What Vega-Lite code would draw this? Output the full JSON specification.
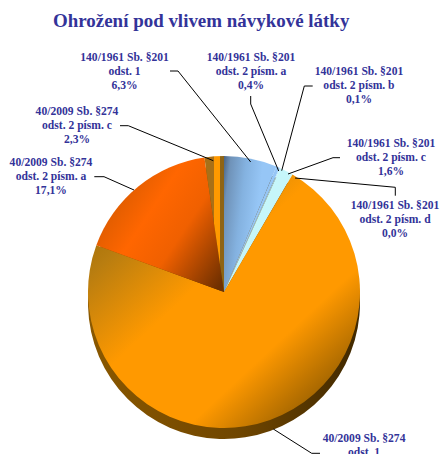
{
"$schema":"https://vega.github.io/schema/vega-lite/v6.json",
"width":440,"height":454,"padding":0,"autosize":{"type":"none"},
"background":"white",
"config":{"view":{"stroke":null},"arc":{"outerRadius":136},"text":{"radius":136,"font":"Liberation Serif","fontSize":11.6,"fontWeight":"bold","color":"#333399","lineHeight":14,"baseline":"middle","align":"center"}},
"title":{"text":"Ohrožení pod vlivem návykové látky","anchor":"start","frame":"group","dx":53,"offset":-31,"font":"Liberation Serif","fontSize":18.95,"fontWeight":"bold","color":"#333399"},
"datasets":{
"slices":[
{"order":1,"slice":"140 odst. 1","share":6.3,"label":["140/1961 Sb. §201","odst. 1","6,3%"]},
{"order":2,"slice":"140 a","share":0.4,"label":["140/1961 Sb. §201","odst. 2 písm. a","0,4%"]},
{"order":3,"slice":"140 b","share":0.1,"label":["140/1961 Sb. §201","odst. 2 písm. b","0,1%"]},
{"order":4,"slice":"140 c","share":1.6,"label":["140/1961 Sb. §201","odst. 2 písm. c","1,6%"]},
{"order":5,"slice":"140 d","share":0.0,"label":["140/1961 Sb. §201","odst. 2 písm. d","0,0%"]},
{"order":6,"slice":"40 odst. 1","share":72.2,"label":["40/2009 Sb. §274","odst. 1","72,2%"]},
{"order":7,"slice":"40 a","share":17.1,"label":["40/2009 Sb. §274","odst. 2 písm. a","17,1%"]},
{"order":8,"slice":"40 c","share":2.3,"label":["40/2009 Sb. §274","odst. 2 písm. c","2,3%"]}
],
"leaders":[
{"slice":"140 odst. 1","step":1,"lx":-54,"ly":221},{"slice":"140 odst. 1","step":2,"lx":-46,"ly":221},{"slice":"140 odst. 1","step":3,"lx":26.7,"ly":130},
{"slice":"140 a","step":1,"lx":26.7,"ly":196},{"slice":"140 a","step":2,"lx":26.7,"ly":188},{"slice":"140 a","step":3,"lx":54.7,"ly":121},
{"slice":"140 b","step":1,"lx":88.7,"ly":206},{"slice":"140 b","step":2,"lx":80.3,"ly":206},{"slice":"140 b","step":3,"lx":57.7,"ly":121.3},
{"slice":"140 c","step":1,"lx":116,"ly":134.3},{"slice":"140 c","step":2,"lx":109,"ly":134.3},{"slice":"140 c","step":3,"lx":64,"ly":118},
{"slice":"140 d","step":1,"lx":171.3,"ly":96.3},{"slice":"140 d","step":2,"lx":171.3,"ly":104.7},{"slice":"140 d","step":3,"lx":71,"ly":114},
{"slice":"40 c","step":1,"lx":-104,"ly":166.3},{"slice":"40 c","step":2,"lx":-95.7,"ly":166.3},{"slice":"40 c","step":3,"lx":-10.7,"ly":131.3},
{"slice":"40 a","step":1,"lx":-129.7,"ly":115.3},{"slice":"40 a","step":2,"lx":-120,"ly":115.3},{"slice":"40 a","step":3,"lx":-90,"ly":102},
{"slice":"40 odst. 1","step":1,"lx":96,"ly":-161.3},{"slice":"40 odst. 1","step":2,"lx":87.7,"ly":-161.3},{"slice":"40 odst. 1","step":3,"lx":49.3,"ly":-137}
]},
"layer":[
{"data":{"name":"slices"},
"transform":[
{"stack":"share","sort":[{"field":"order","order":"ascending"}],"groupby":[],"as":["s0","s1"]},
{"calculate":"(datum.s0+datum.s1)/2","as":"mid"}
],
"encoding":{
"x":{"datum":0,"type":"quantitative","scale":{"domain":[-224,216]},"axis":null},
"y":{"datum":0,"type":"quantitative","scale":{"domain":[-162,292]},"axis":null}
},
"layer":[
{"mark":{"type":"arc","yOffset":11,"color":{"gradient":"linear","x1":0,"y1":0.5,"x2":1,"y2":0.5,"stops":[{"offset":0,"color":"#8A5800"},{"offset":0.55,"color":"#704600"},{"offset":1,"color":"#402800"}]}},
"encoding":{"theta":{"field":"s0","type":"quantitative","scale":{"domain":[0,100]},"stack":null},"theta2":{"field":"s1"}}},
{"transform":[{"filter":"datum.order==1"}],"mark":{"type":"arc","color":{"gradient":"linear","x1":0,"y1":0,"x2":1,"y2":0.3,"stops":[{"offset":0,"color":"#4A6484"},{"offset":0.12,"color":"#6F92B8"},{"offset":0.4,"color":"#84B2E0"},{"offset":0.7,"color":"#96C6F6"},{"offset":1,"color":"#96C6F6"}]}},
"encoding":{"theta":{"field":"s0","type":"quantitative","scale":{"domain":[0,100]},"stack":null},"theta2":{"field":"s1"}}},
{"transform":[{"filter":"datum.order==2"}],"mark":{"type":"arc","color":"#96C6F6"},
"encoding":{"theta":{"field":"s0","type":"quantitative","scale":{"domain":[0,100]},"stack":null},"theta2":{"field":"s1"}}},
{"transform":[{"filter":"datum.order==3"}],"mark":{"type":"arc","color":"#B8E6F8"},
"encoding":{"theta":{"field":"s0","type":"quantitative","scale":{"domain":[0,100]},"stack":null},"theta2":{"field":"s1"}}},
{"transform":[{"filter":"datum.order==4"}],"mark":{"type":"arc","color":"#C6F6FA"},
"encoding":{"theta":{"field":"s0","type":"quantitative","scale":{"domain":[0,100]},"stack":null},"theta2":{"field":"s1"}}},
{"transform":[{"filter":"datum.order==6"}],"mark":{"type":"arc","color":{"gradient":"linear","x1":0,"y1":0,"x2":1,"y2":1,"stops":[{"offset":0,"color":"#8F6000"},{"offset":0.2,"color":"#B87D10"},{"offset":0.42,"color":"#FF9900"},{"offset":0.68,"color":"#FF9900"},{"offset":0.85,"color":"#A86800"},{"offset":1,"color":"#7A4C00"}]}},
"encoding":{"theta":{"field":"s0","type":"quantitative","scale":{"domain":[0,100]},"stack":null},"theta2":{"field":"s1"}}},
{"transform":[{"filter":"datum.order==7"}],"mark":{"type":"arc","color":{"gradient":"linear","x1":0,"y1":0.2,"x2":1,"y2":0.9,"stops":[{"offset":0,"color":"#C85500"},{"offset":0.38,"color":"#FF6600"},{"offset":0.62,"color":"#F06000"},{"offset":1,"color":"#703000"}]}},
"encoding":{"theta":{"field":"s0","type":"quantitative","scale":{"domain":[0,100]},"stack":null},"theta2":{"field":"s1"}}},
{"transform":[{"filter":"datum.order==8"}],"mark":{"type":"arc","color":{"gradient":"linear","x1":0,"y1":0.5,"x2":1,"y2":0.5,"stops":[{"offset":0,"color":"#A87018"},{"offset":0.5,"color":"#A87018"},{"offset":0.5,"color":"#FF9900"},{"offset":0.82,"color":"#FF9900"},{"offset":0.82,"color":"#8F6414"},{"offset":1,"color":"#8F6414"}]}},
"encoding":{"theta":{"field":"s0","type":"quantitative","scale":{"domain":[0,100]},"stack":null},"theta2":{"field":"s1"}}},
{"transform":[{"filter":"datum.order==1"}],"mark":{"type":"text","dx":-126.2,"dy":-100.7},"encoding":{"theta":{"field":"mid","type":"quantitative","scale":{"domain":[0,100]},"stack":null},"text":{"field":"label"}}},
{"transform":[{"filter":"datum.order==2"}],"mark":{"type":"text","dx":-27,"dy":-109.1},"encoding":{"theta":{"field":"mid","type":"quantitative","scale":{"domain":[0,100]},"stack":null},"text":{"field":"label"}}},
{"transform":[{"filter":"datum.order==3"}],"mark":{"type":"text","dx":79,"dy":-96},"encoding":{"theta":{"field":"mid","type":"quantitative","scale":{"domain":[0,100]},"stack":null},"text":{"field":"label"}}},
{"transform":[{"filter":"datum.order==4"}],"mark":{"type":"text","dx":104.5,"dy":-27.2},"encoding":{"theta":{"field":"mid","type":"quantitative","scale":{"domain":[0,100]},"stack":null},"text":{"field":"label"}}},
{"transform":[{"filter":"datum.order==5"}],"mark":{"type":"text","dx":102.5,"dy":31.5},"encoding":{"theta":{"field":"mid","type":"quantitative","scale":{"domain":[0,100]},"stack":null},"text":{"field":"label"}}},
{"transform":[{"filter":"datum.order==6"}],"mark":{"type":"text","dx":94,"dy":19},"encoding":{"theta":{"field":"mid","type":"quantitative","scale":{"domain":[0,100]},"stack":null},"text":{"field":"label"}}},
{"transform":[{"filter":"datum.order==7"}],"mark":{"type":"text","dx":-87.3,"dy":-23.4},"encoding":{"theta":{"field":"mid","type":"quantitative","scale":{"domain":[0,100]},"stack":null},"text":{"field":"label"}}},
{"transform":[{"filter":"datum.order==8"}],"mark":{"type":"text","dx":-137.2,"dy":-44.4},"encoding":{"theta":{"field":"mid","type":"quantitative","scale":{"domain":[0,100]},"stack":null},"text":{"field":"label"}}}
]},
{"data":{"name":"leaders"},
"mark":{"type":"line","color":"#000000","strokeWidth":1},
"encoding":{"x":{"field":"lx","type":"quantitative","scale":{"domain":[-224,216]},"axis":null},"y":{"field":"ly","type":"quantitative","scale":{"domain":[-162,292]},"axis":null},"detail":{"field":"slice"},"order":{"field":"step","type":"quantitative"}}}
]
}
